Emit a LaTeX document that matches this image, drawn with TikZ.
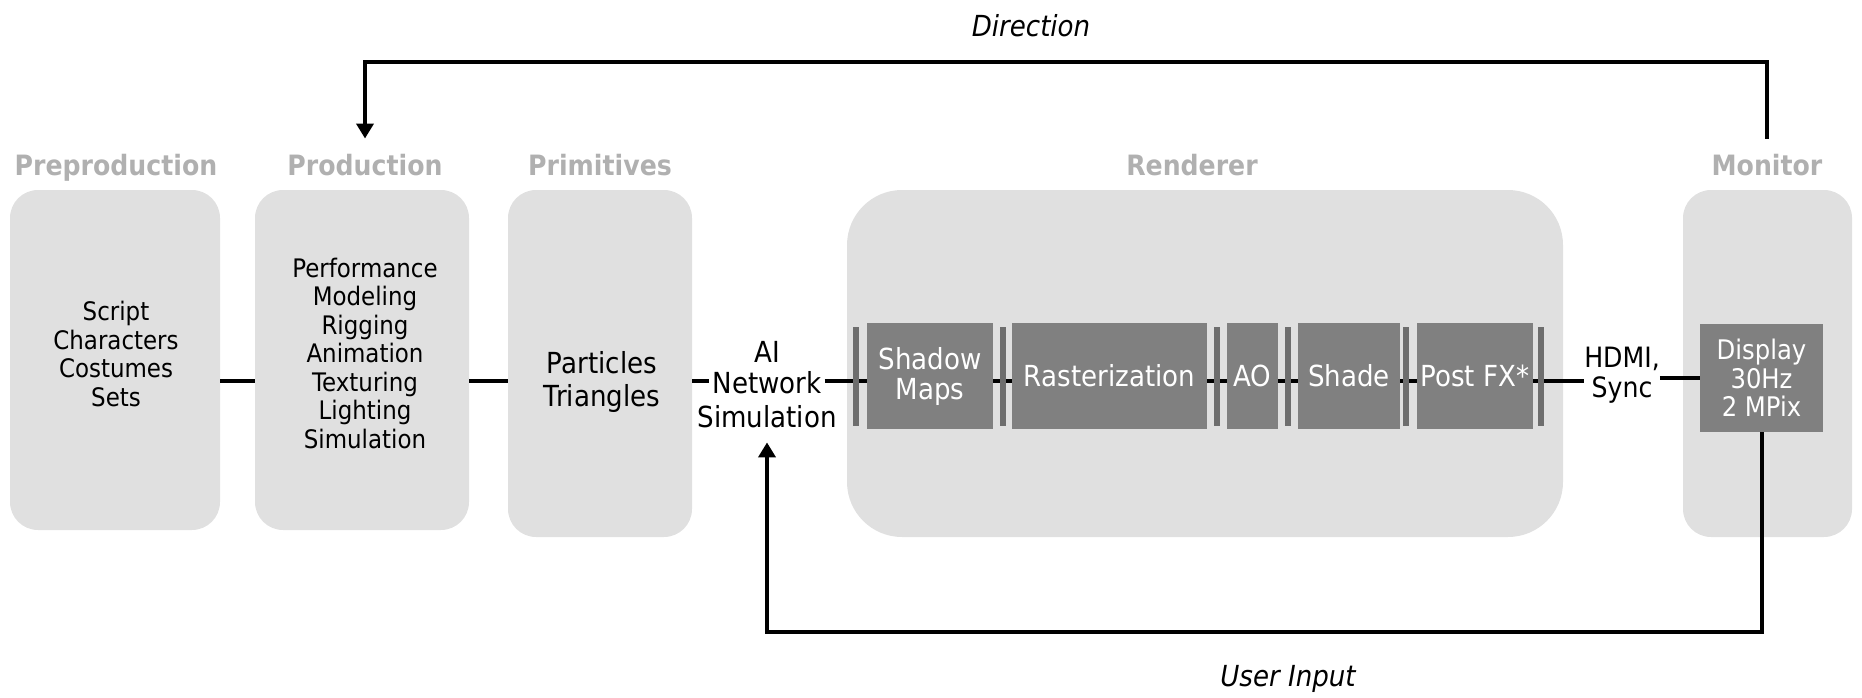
\documentclass[tikz,border=0pt]{standalone}
\usepackage{fontspec}
\setmainfont[FakeStretch=0.9]{DejaVu Sans}
\usetikzlibrary{arrows.meta}
\definecolor{boxgray}{HTML}{E0E0E0}
\definecolor{stagegray}{HTML}{808080}
\definecolor{bargray}{HTML}{6E6E6E}
\definecolor{titlegray}{HTML}{B0B0B0}
\begin{document}
\begin{tikzpicture}[x=1pt,y=-1pt,
  panel/.style={fill=boxgray, draw=none, inner sep=0pt, rounded corners=28pt},
  title/.style={font=\fontsize{28}{30}\selectfont\bfseries, text=titlegray, anchor=base, inner sep=0pt},
  listtext/.style={font=\fontsize{25.5}{28.5}\selectfont, align=center, inner sep=0pt},
  bigtext/.style={font=\fontsize{29}{32.5}\selectfont, align=center, inner sep=0pt},
  stage/.style={fill=stagegray, text=white, inner sep=0pt, minimum height=106pt, align=center, font=\fontsize{29}{30}\selectfont},
  bar/.style={fill=bargray, inner sep=0pt, minimum width=6pt, minimum height=99pt},
  conn/.style={line width=4pt, black},
  tip/.style={-{Triangle[width=17pt,length=15pt]}},
  note/.style={font=\fontsize{29}{30}\selectfont\itshape, inner sep=0pt}
]
\useasboundingbox (0,0) rectangle (1862,698);

% panels
\node[panel, minimum width=210pt, minimum height=340pt] (pre) at (115,360) {};
\node[panel, minimum width=214pt, minimum height=340pt] (prod) at (362,360) {};
\node[panel, minimum width=184pt, minimum height=347pt] (prim) at (600,363.5) {};
\node[panel, rounded corners=55pt, minimum width=716pt, minimum height=347pt] (rend) at (1205,363.5) {};
\node[panel, minimum width=169pt, minimum height=347pt] (mon) at (1767.5,363.5) {};

% titles
\node[title] (pretitle) at (116,175) {Preproduction};
\node[title] (prodtitle) at (365,175) {Production};
\node[title] (primtitle) at (600,175) {Primitives};
\node[title] (rendtitle) at (1192,175) {Renderer};
\node[title] (montitle) at (1767,175) {Monitor};

% texts
\node[listtext] (pretext) at (116,354) {Script\\Characters\\Costumes\\Sets};
\node[listtext] (prodtext) at (365,353) {Performance\\Modeling\\Rigging\\Animation\\Texturing\\Lighting\\Simulation};
\node[bigtext] (primtext) at (602,382) {Particles\\Triangles};

\node[bigtext] (aitop) at (767,352) {AI};
\node[bigtext, inner xsep=3pt] (ainet) at (767,383) {Network};
\node[bigtext, inner ysep=14pt] (aisim) at (767,417) {Simulation};

% renderer stages
\node[stage, minimum width=126pt] (shadow) at (930,376) {Shadow\\Maps};
\node[stage, minimum width=195pt] (raster) at (1109.5,376) {Rasterization};
\node[stage, minimum width=51pt] (ao) at (1252.5,376) {AO};
\node[stage, minimum width=102pt] (shade) at (1349,376) {Shade};
\node[stage, minimum width=116pt] (post) at (1475,376) {Post FX*};

\node[bigtext, font=\fontsize{28}{30}\selectfont] (hdmi) at (1622,375) {HDMI,\\Sync};
\node[stage, minimum width=123pt, minimum height=108pt, font=\fontsize{27}{28.5}\selectfont] (disp) at (1761.5,378) {Display\\30Hz\\2 MPix};

% connectors
\draw[conn] (pre.east |- 0,381) -- (prod.west |- 0,381);
\draw[conn] (prod.east |- 0,381) -- (prim.west |- 0,381);
\draw[conn] (prim.east |- 0,381) -- (ainet.west |- 0,381);
\draw[conn] (ainet.east |- 0,381) -- (shadow.west |- 0,381);
\draw[conn] (shadow.east |- 0,381) -- (raster.west |- 0,381);
\draw[conn] (raster.east |- 0,381) -- (ao.west |- 0,381);
\draw[conn] (ao.east |- 0,381) -- (shade.west |- 0,381);
\draw[conn] (shade.east |- 0,381) -- (post.west |- 0,381);
\draw[conn] (post.east |- 0,381) -- (hdmi.west |- 0,381);
\draw[conn] (hdmi.east |- 0,378) -- (disp.west |- 0,378);

% separator bars
\node[bar] (b1) at (856,376.5) {};
\node[bar] (b2) at (1002.5,376.5) {};
\node[bar] (b3) at (1217,376.5) {};
\node[bar] (b4) at (1287.5,376.5) {};
\node[bar] (b5) at (1406,376.5) {};
\node[bar] (b6) at (1540.5,376.5) {};

% feedback loops
\draw[conn, tip] (disp.south) -- ++(0,200) -| (aisim.south);
\draw[conn, tip] ([yshift=15pt]montitle.north) -- ++(0,-77) -| ([yshift=15pt]prodtitle.north);

\node[note] (dirlabel) at (1031,26) {Direction};
\node[note] (userlabel) at (1288,679) {User Input};
\end{tikzpicture}
\end{document}
